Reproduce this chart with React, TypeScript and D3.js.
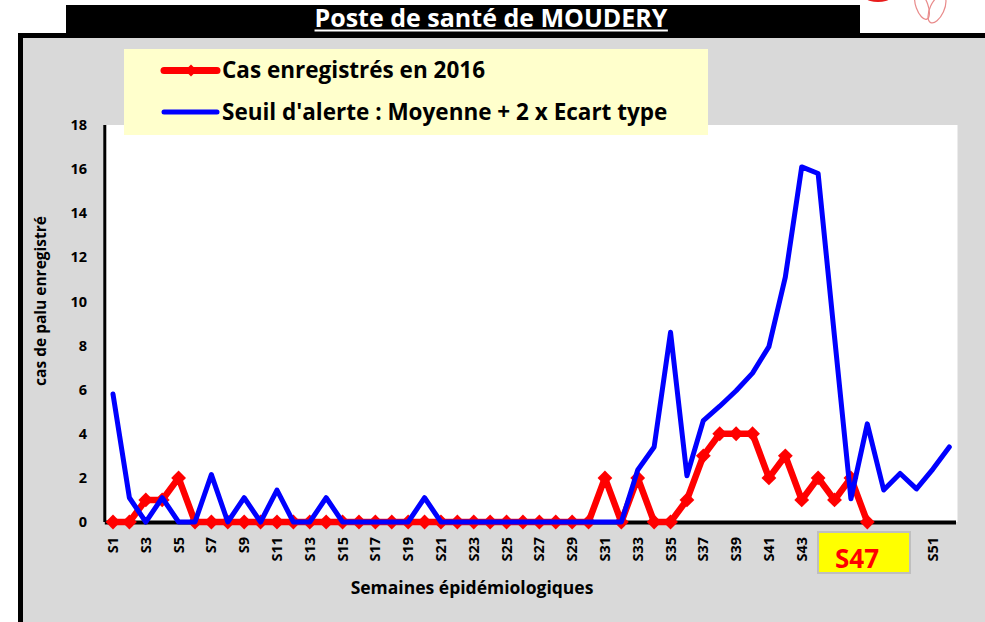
import * as d3 from "d3";
import { useEffect, useRef } from "react";

// chart size (the browser window)
const width = 985;
const height = 622;

// plot area
const plotLeft = 104.8;
const plotRight = 957.5;
const plotTop = 125;
const plotBottom = 522;

const font = "'Open Sans', Lato, sans-serif";

const weeks: string[] = Array.from({ length: 52 }, (_, i) => `S${i + 1}`);

// Cas enregistrés en 2016 (S1 to S47)
const cas2016: number[] = [
  0, 0, 1, 1, 2, 0, 0, 0, 0, 0,
  0, 0, 0, 0, 0, 0, 0, 0, 0, 0,
  0, 0, 0, 0, 0, 0, 0, 0, 0, 0,
  2, 0, 2, 0, 0, 1, 3, 4, 4, 4,
  2, 3, 1, 2, 1, 2, 0,
];

// Seuil d'alerte : Moyenne + 2 x Ecart type (S1 to S52)
const seuil: number[] = [
  5.8, 1.1, 0, 1.1, 0, 0, 2.15, 0, 1.1, 0,
  1.45, 0, 0, 1.1, 0, 0, 0, 0, 0, 1.1,
  0, 0, 0, 0, 0, 0, 0, 0, 0, 0,
  0, 0, 2.36, 3.4, 8.6, 2.1, 4.6, 5.25, 5.95, 6.75,
  7.95, 11.1, 16.1, 15.8, 8.4, 1.05, 4.45, 1.45, 2.2, 1.5,
  2.4, 3.4,
];

const yTicks: number[] = [0, 2, 4, 6, 8, 10, 12, 14, 16, 18];
const currentWeek = "S47";

const App = () => {
  const containerRef = useRef<HTMLDivElement>(null);

  useEffect(() => {
    const container = containerRef.current;
    if (!container) return;
    container.innerHTML = "";

    const x = d3.scaleBand<string>().domain(weeks).range([plotLeft, plotRight]).padding(0);
    const cx = (w: string) => (x(w) as number) + x.bandwidth() / 2;
    const y = d3.scaleLinear().domain([0, 18]).range([plotBottom, plotTop]);

    const svg = d3
      .select(container)
      .append("svg")
      .attr("width", width)
      .attr("height", height)
      .style("position", "absolute")
      .style("left", "0px")
      .style("top", "0px")
      .style("font-family", font);

    svg.append("rect").attr("width", width).attr("height", height).attr("fill", "#ffffff");

    // logo fragment top right
    const logo = svg.append("g").attr("fill", "none").attr("stroke", "#e05a5a").attr("stroke-width", 1.2).attr("opacity", 0.7);
    logo.append("ellipse").attr("cx", 922).attr("cy", 6).attr("rx", 6).attr("ry", 14).attr("transform", "rotate(-20 922 6)");
    logo.append("ellipse").attr("cx", 937).attr("cy", 9).attr("rx", 7).attr("ry", 15).attr("transform", "rotate(25 937 9)");
    svg.append("ellipse").attr("cx", 878).attr("cy", -1).attr("rx", 11).attr("ry", 3).attr("fill", "#e81c1c");

    // title bar
    svg.append("rect").attr("x", 66).attr("y", 5).attr("width", 794).attr("height", 28).attr("fill", "#000");
    const title = svg
      .append("text")
      .attr("x", 491)
      .attr("y", 27)
      .attr("text-anchor", "middle")
      .attr("fill", "#fff")
      .attr("font-weight", "bold")
      .attr("font-size", 25)
      .text("Poste de santé de MOUDERY");
    const tb = (title.node() as SVGTextElement).getBBox();
    svg.append("line").attr("x1", tb.x).attr("x2", tb.x + tb.width).attr("y1", 30.5).attr("y2", 30.5).attr("stroke", "#fff").attr("stroke-width", 1.8);

    // chart frame
    svg.append("rect").attr("x", 18).attr("y", 33).attr("width", width - 18).attr("height", height - 33).attr("fill", "#000");
    svg.append("rect").attr("x", 23).attr("y", 38).attr("width", width - 23).attr("height", height - 38).attr("fill", "#d9d9d9");

    // plot area
    svg.append("rect")
      .attr("x", plotLeft)
      .attr("y", plotTop)
      .attr("width", plotRight - plotLeft)
      .attr("height", plotBottom - plotTop)
      .attr("fill", "#fff");

    // y axis labels
    svg.append("g")
      .selectAll("text")
      .data(yTicks)
      .join("text")
      .attr("x", 87)
      .attr("y", (d) => y(d))
      .attr("dy", "0.35em")
      .attr("text-anchor", "end")
      .attr("font-size", 14.5)
      .attr("font-weight", "bold")
      .attr("fill", "#000")
      .text((d) => d);

    svg.append("text")
      .attr("transform", `translate(46, 301) rotate(-90)`)
      .attr("text-anchor", "middle")
      .attr("font-size", 15.5)
      .attr("font-weight", "bold")
      .text("cas de palu enregistré");

    // x axis labels (every second week)
    svg.append("g")
      .selectAll("text")
      .data(weeks.filter((_, i) => i % 2 === 0))
      .join("text")
      .attr("transform", (d) => `translate(${cx(d) + 5}, 537) rotate(-90)`)
      .attr("text-anchor", "end")
      .attr("font-size", 14.5)
      .attr("font-weight", "bold")
      .text((d) => d);

    svg.append("text")
      .attr("x", 472)
      .attr("y", 594)
      .attr("text-anchor", "middle")
      .attr("font-size", 17.5)
      .attr("font-weight", "bold")
      .text("Semaines épidémiologiques");

    // axis lines
    svg.append("line").attr("x1", plotLeft).attr("x2", plotLeft).attr("y1", plotTop).attr("y2", plotBottom).attr("stroke", "#000").attr("stroke-width", 3);
    svg.append("line").attr("x1", plotLeft).attr("x2", plotRight - 1.5).attr("y1", plotBottom + 0.5).attr("y2", plotBottom + 0.5).attr("stroke", "#000").attr("stroke-width", 4);

    // red series
    const casPts = cas2016.map((v, i) => ({ w: weeks[i], v }));
    const line = d3
      .line<{ w: string; v: number }>()
      .x((d) => cx(d.w))
      .y((d) => y(d.v));

    svg.append("path")
      .datum(casPts)
      .attr("d", line)
      .attr("fill", "none")
      .attr("stroke", "#ff0000")
      .attr("stroke-width", 6.5)
      .attr("stroke-linejoin", "round");

    const diamond = d3.symbol().type(d3.symbolDiamond2).size(140);
    svg.append("g")
      .selectAll("path")
      .data(casPts)
      .join("path")
      .attr("transform", (d) => `translate(${cx(d.w)}, ${y(d.v)})`)
      .attr("d", diamond)
      .attr("fill", "#ff0000");

    // blue series
    const seuilPts = seuil.map((v, i) => ({ w: weeks[i], v }));
    svg.append("path")
      .datum(seuilPts)
      .attr("d", line)
      .attr("fill", "none")
      .attr("stroke", "#0000ff")
      .attr("stroke-width", 5)
      .attr("stroke-linejoin", "round")
      .attr("stroke-linecap", "round");

    // legend
    svg.append("rect").attr("x", 124).attr("y", 49).attr("width", 584).attr("height", 86).attr("fill", "#ffffcc");
    svg.append("line").attr("x1", 164).attr("x2", 217).attr("y1", 70.5).attr("y2", 70.5).attr("stroke", "#ff0000").attr("stroke-width", 7).attr("stroke-linecap", "round");
    svg.append("path").attr("transform", "translate(191, 70.5)").attr("d", d3.symbol().type(d3.symbolDiamond2).size(90)).attr("fill", "#ff0000");
    svg.append("line").attr("x1", 164).attr("x2", 217).attr("y1", 112).attr("y2", 112).attr("stroke", "#0000ff").attr("stroke-width", 5).attr("stroke-linecap", "round");
    svg.append("text").attr("x", 222).attr("y", 78).attr("font-size", 22.5).attr("font-weight", "bold").text("Cas enregistrés en 2016");
    svg.append("text").attr("x", 222).attr("y", 120).attr("font-size", 22.5).attr("font-weight", "bold").text("Seuil d'alerte : Moyenne + 2 x Ecart type");

    // current week marker
    svg.append("rect").attr("x", 818).attr("y", 532).attr("width", 92).attr("height", 41).attr("fill", "#ffff00").attr("stroke", "#bfbfbf").attr("stroke-width", 2);
    svg.append("text")
      .attr("x", 857)
      .attr("y", 568)
      .attr("text-anchor", "middle")
      .attr("font-size", 26)
      .attr("font-weight", "bold")
      .attr("fill", "#ff0000")
      .text(currentWeek);
  }, []);

  return <div ref={containerRef}></div>;
};

export default App;
